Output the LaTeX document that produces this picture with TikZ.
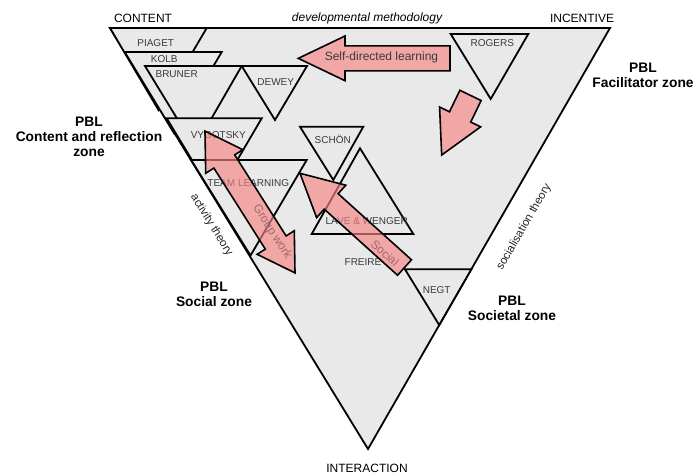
\documentclass[tikz,border=0pt]{standalone}
\usepackage{fontspec}
\setmainfont{Liberation Sans}
\definecolor{trifill}{HTML}{E9E9E9}
\definecolor{pkfill}{HTML}{F78585}
\definecolor{pksolid}{HTML}{F2A7A7}
\definecolor{lbl}{HTML}{3A3A3A}
\definecolor{arrtxt}{HTML}{A06A6A}
\begin{document}
\begin{tikzpicture}[x=1pt,y=-1pt,
  tri/.style={draw=black, fill=trifill, line width=1.8pt, line join=miter},
  who/.style={font=\fontsize{10}{12}\selectfont, text=lbl, inner sep=0pt},
  zone/.style={font=\bfseries\fontsize{13.8}{15}\selectfont, align=center, inner sep=0pt},
  corner/.style={font=\fontsize{12}{14}\selectfont, inner sep=0pt},
  theory/.style={font=\fontsize{11.5}{13}\selectfont, inner sep=0pt, text=black!85},
  solidarr/.style={draw=black, line width=1.6pt, fill=pksolid, line join=miter},
  glassarr/.style={draw=black, line width=1.6pt, fill=pkfill, fill opacity=0.65, line join=miter},
  arrlabel/.style={font=\fontsize{12}{14}\selectfont, inner sep=0pt}]
\useasboundingbox (0,0) rectangle (694,475);
% main triangle
\draw[tri] (110,28) -- (610,28) -- (368,449) -- cycle;
% small triangles
\draw[tri] (110,28) -- (206.7,28) -- (158.5,110) -- cycle;      % Piaget
\draw[tri] (124.7,52) -- (221.7,52) -- (174,133) -- cycle;      % Kolb
\draw[tri] (145,66) -- (241.7,66) -- (194.7,147.5) -- cycle;    % Bruner
\draw[tri] (241.7,66) -- (307,66) -- (275,120) -- cycle;        % Dewey
\draw[tri] (450.7,34) -- (528.3,34) -- (490.7,99) -- cycle;     % Rogers
\draw[tri] (166.7,118.3) -- (261.7,118.3) -- (215,198) -- cycle; % Vygotsky
\draw[tri] (191.2,160) -- (306.7,160) -- (250.5,255.5) -- cycle; % Team learning
\draw[tri] (300,126.7) -- (363.3,126.7) -- (333.3,180) -- cycle; % Schon
\draw[tri] (360,148.3) -- (311.7,234) -- (413.3,234) -- cycle;  % Lave & Wenger
\draw[tri] (405,269.3) -- (471.3,269.3) -- (439.2,325) -- cycle; % Negt
% names
\node[who] (piaget) at (155.7,42.7) {PIAGET};
\node[who] (kolb) at (164.3,59.3) {KOLB};
\node[who] (bruner) at (176.7,74) {BRUNER};
\node[who] (dewey) at (275.7,81.7) {DEWEY};
\node[who] (rogers) at (492.3,43.3) {ROGERS};
\node[who] (vygotsky) at (218.3,135) {VYGOTSKY};
\node[who] (team) at (248.3,183.3) {TEAM LEARNING};
\node[who] (schon) at (332.7,139) {SCHÖN};
\node[who] (lave) at (366.7,221) {LAVE \& WENGER};
\node[who] (freire) at (363,262) {FREIRE};
\node[who] (negt) at (436.7,290) {NEGT};
% corner labels
\node[corner] (content) at (143,18) {CONTENT};
\node[corner, font=\itshape\fontsize{12}{14}\selectfont] (devmeth) at (367,18) {developmental methodology};
\node[corner] (incentive) at (582,18) {INCENTIVE};
\node[corner] (interaction) at (367,468) {INTERACTION};
% zones
\node[zone] (fac) at (643,75.5) {PBL\\Facilitator zone};
\node[zone] (cont) at (89,136.5) {PBL\\Content and reflection\\zone};
\node[zone] (soc) at (214,294.5) {PBL\\Social zone};
\node[zone] (socl) at (512,308.5) {PBL\\Societal zone};
% theories
\node[theory, rotate=-58.5] (activity) at (211.5,225) {activity theory};
\node[theory, rotate=60] (socialisation) at (524,227) {socialisation theory};
% Self-directed learning arrow
\begin{scope}[shift={(374.15,58.35)}, rotate=180]
\draw[solidarr] (75.85,0) -- (29.15,22.35) -- (29.15,12.5) -- (-75.85,12.5) -- (-75.85,-12.5) -- (29.15,-12.5) -- (29.15,-22.35) -- cycle;
\end{scope}
\node[arrlabel, text=lbl] (selfdir) at (381.5,57) {Self-directed learning};
% Rogers arrow
\begin{scope}[shift={(456.1,125.2)}, rotate=244.2]
\draw[solidarr] (33.1,0) -- (-9.2,22.8) -- (-9.2,11.8) -- (-33.1,11.8) -- (-33.1,-11.8) -- (-9.2,-11.8) -- (-9.2,-22.8) -- cycle;
\end{scope}
% Group work double arrow
\begin{scope}[shift={(250,202)}, rotate=-57.6]
\draw[glassarr] (84,0) -- (48,22) -- (48,12.3) -- (-48,12.3) -- (-48,22) -- (-84,0) -- (-48,-22) -- (-48,-12.3) -- (48,-12.3) -- (48,-22) -- cycle;
\end{scope}
\node[arrlabel, text=arrtxt, rotate=-57.6] (group) at (272,232) {Group work};
% Social arrow
\begin{scope}[shift={(352.25,220.4)}, rotate=137.97]
\draw[glassarr] (70.35,0) -- (28.35,21.8) -- (28.35,10.4) -- (-70.35,10.4) -- (-70.35,-10.4) -- (28.35,-10.4) -- (28.35,-21.8) -- cycle;
\end{scope}
\node[arrlabel, text=arrtxt, rotate=-42] (social) at (385,253) {Social};
\end{tikzpicture}
\end{document}
